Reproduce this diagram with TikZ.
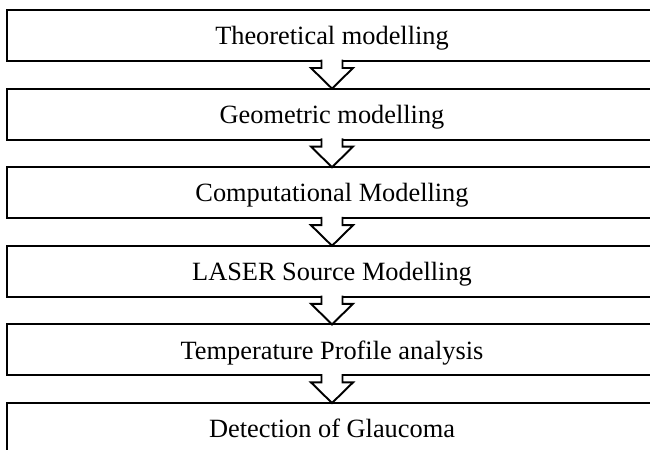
\documentclass[tikz,border=0pt]{standalone}
\usepackage{fontspec}
\setmainfont{Liberation Serif}
\usetikzlibrary{positioning}
\tikzset{
  stage/.style={draw, line width=1.1pt, minimum width=13cm, minimum height=1.02cm,
    inner sep=0pt, outer sep=0pt, text depth=0pt, font=\fontsize{15}{18}\selectfont},
  hollow/.style={draw, line width=1.1pt, fill=white, line join=miter},
}
\begin{document}
\begin{tikzpicture}[scale=1]
  % the page, the boxes run off the right and the bottom
  \useasboundingbox (0,0) rectangle (13,-8.98);
  \clip (0,0) rectangle (13,-8.98);
  % the six stages, one under the other
  \node[stage, anchor=north west] (s1) at (0.14,-0.2) {Theoretical modelling};
  \node[stage, below=0.552cm of s1] (s2) {Geometric modelling};
  \node[stage, below=0.552cm of s2] (s3) {Computational Modelling};
  \node[stage, below=0.552cm of s3] (s4) {LASER Source Modelling};
  \node[stage, below=0.552cm of s4] (s5) {Temperature Profile analysis};
  \node[stage, below=0.552cm of s5] (s6) {Detection of Glaucoma};
  % hollow arrow from each stage to the next
  \foreach \a/\b in {s1/s2,s2/s3,s3/s4,s4/s5,s5/s6}
    \draw[hollow] ([xshift=-0.21cm,yshift=0.025cm]\a.south) -- ++(0,-0.165) -- ++(-0.21,0)
      -- (\b.north) -- ([xshift=0.42cm,yshift=-0.14cm]\a.south) -- ++(-0.21,0)
      -- ([xshift=0.21cm,yshift=0.025cm]\a.south);
\end{tikzpicture}
\end{document}
